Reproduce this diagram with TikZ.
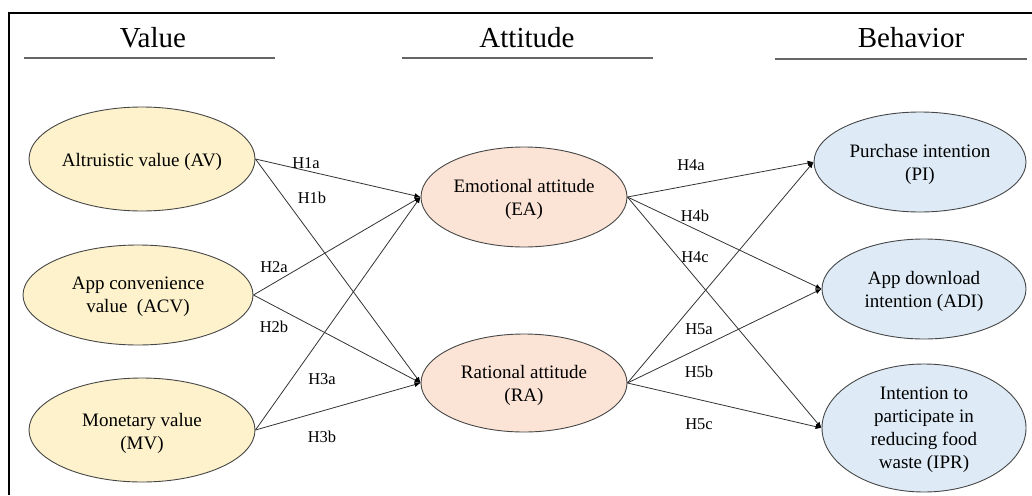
\documentclass[tikz,border=0pt]{standalone}
\usepackage{fontspec}
\setmainfont{Liberation Serif}
\usetikzlibrary{shapes.geometric,arrows.meta}
\definecolor{valfill}{RGB}{253,242,204}
\definecolor{attfill}{RGB}{251,228,214}
\definecolor{behfill}{RGB}{222,235,247}
\definecolor{edge}{RGB}{70,70,70}
\tikzset{
  ell/.style={ellipse, draw=edge, line width=0.9pt, inner sep=0pt, align=center,
    font=\fontsize{19}{23}\selectfont},
  valnode/.style={ell, fill=valfill},
  attnode/.style={ell, fill=attfill},
  behnode/.style={ell, fill=behfill},
  conn/.style={draw=black!80, line width=0.8pt, -{Latex[length=6pt,width=5pt,fill=black,color=black]}},
  hlab/.style={font=\fontsize{16.5}{18}\selectfont, inner sep=0pt},
  title/.style={font=\fontsize{29}{32}\selectfont, inner sep=0pt},
  rule/.style={draw=black!60, line width=1pt}
}
\begin{document}
\begin{tikzpicture}[x=1pt,y=-1pt]
\useasboundingbox (0,0) rectangle (1032,495);
% frame
\draw[line width=1.2pt] (9,495) -- (9,13) -- (1032,13);
% titles
\node[title] (tv) at (153,38) {Value};
\node[title] (ta) at (527,38) {Attitude};
\node[title] (tb) at (911,38) {Behavior};
\draw[rule] (24,58) -- (275,58);
\draw[rule] (402,58) -- (653,58);
\draw[rule] (775,59) -- (1027,59);
% nodes
\node[valnode, minimum width=226pt, minimum height=104pt] (AV) at (142,159) {};
\node[valnode, minimum width=230pt, minimum height=100pt] (ACV) at (138,295) {};
\node[valnode, minimum width=226pt, minimum height=104pt] (MV) at (142,430) {};
\node[attnode, minimum width=206pt, minimum height=100pt] (EA) at (524,197) {};
\node[attnode, minimum width=206pt, minimum height=98pt] (RA) at (524,383) {};
\node[behnode, minimum width=212pt, minimum height=100pt] (PI) at (920,162) {};
\node[behnode, minimum width=204pt, minimum height=100pt] (ADI) at (924,289) {};
\node[behnode, minimum width=204pt, minimum height=128pt] (IPR) at (924,428) {};
% node texts
\tikzset{ntext/.style={align=center, font=\fontsize{19}{23}\selectfont, inner sep=0pt}}
\node[ntext] (tAV) at ([yshift=-3pt]AV.center) {Altruistic value (AV)};
\node[ntext] (tACV) at ([yshift=-2pt]ACV.center) {App convenience\\value~~(ACV)};
\node[ntext] (tMV) at ([yshift=-3pt]MV.center) {Monetary value\\(MV)};
\node[ntext] (tEA) at ([yshift=-2pt]EA.center) {Emotional attitude\\(EA)};
\node[ntext] (tRA) at ([yshift=-2pt]RA.center) {Rational attitude\\(RA)};
\node[ntext] (tPI) at ([yshift=-2pt]PI.center) {Purchase intention\\(PI)};
\node[ntext] (tADI) at ([yshift=-2pt]ADI.center) {App download\\intention (ADI)};
\node[ntext] (tIPR) at ([yshift=-2pt]IPR.center) {Intention to\\participate in\\reducing food\\waste (IPR)};
% connectors
\draw[conn] (AV.east) -- (EA.west);
\draw[conn] (AV.east) -- (RA.west);
\draw[conn] (ACV.east) -- (EA.west);
\draw[conn] (ACV.east) -- (RA.west);
\draw[conn] (MV.east) -- (EA.west);
\draw[conn] (MV.east) -- (RA.west);
\draw[conn] (EA.east) -- (PI.west);
\draw[conn] (EA.east) -- (ADI.west);
\draw[conn] (EA.east) -- (IPR.west);
\draw[conn] (RA.east) -- (PI.west);
\draw[conn] (RA.east) -- (ADI.west);
\draw[conn] (RA.east) -- (IPR.west);
% labels
\node[hlab] (h1a) at (306,163) {H1a};
\node[hlab] (h1b) at (312,198) {H1b};
\node[hlab] (h2a) at (274,267) {H2a};
\node[hlab] (h2b) at (274,327) {H2b};
\node[hlab] (h3a) at (322,379) {H3a};
\node[hlab] (h3b) at (322,437) {H3b};
\node[hlab] (h4a) at (691,165) {H4a};
\node[hlab] (h4b) at (695,216) {H4b};
\node[hlab] (h4c) at (695,257) {H4c};
\node[hlab] (h5a) at (699,329) {H5a};
\node[hlab] (h5b) at (699,372) {H5b};
\node[hlab] (h5c) at (699,424) {H5c};
\end{tikzpicture}
\end{document}
